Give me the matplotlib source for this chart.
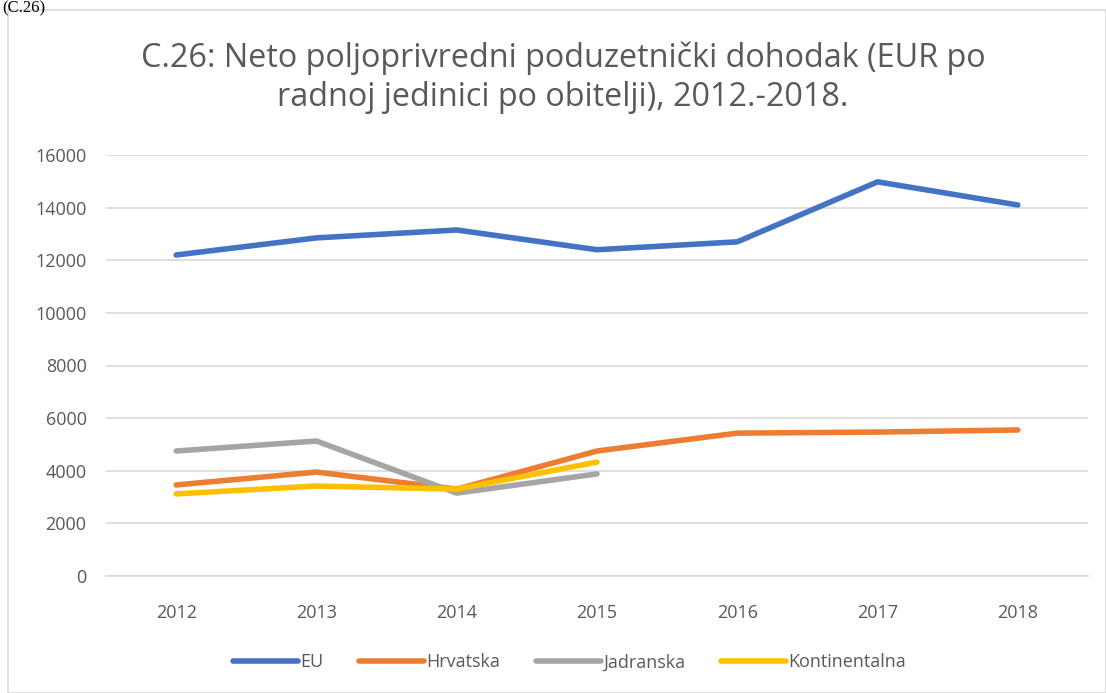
import matplotlib.pyplot as plt
from matplotlib.patches import Rectangle

years = ['2012', '2013', '2014', '2015', '2016', '2017', '2018']
eu = [12200, 12850, 13150, 12400, 12700, 14980, 14100]
hrvatska = [3460, 3950, 3300, 4750, 5430, 5470, 5550]
jadranska = [4750, 5130, 3150, 3880]
kontinentalna = [3120, 3420, 3300, 4330]

plt.rcParams['font.family'] = ['Open Sans', 'DejaVu Sans']

fig = plt.figure(figsize=(11.06, 6.93), dpi=100)

# outer chart frame
fig.patches.append(Rectangle((8 / 1106, 0), 1 - 8 / 1106, 1 - 10 / 693,
                             transform=fig.transFigure, fill=False,
                             edgecolor='#d9d9d9', linewidth=1.2))
fig.text(0.002, 0.999, '(C.26)', family='Liberation Serif', fontsize=12,
         ha='left', va='top', color='black')

ax = fig.add_axes([106 / 1106, 1 - 576 / 693, (1088 - 106) / 1106, (576 - 155) / 693])

x = list(range(len(years)))
ax.plot(x, eu, color='#4472c4', lw=4, label='EU', solid_capstyle='round')
ax.plot(x, hrvatska, color='#ed7d31', lw=4, label='Hrvatska', solid_capstyle='round')
ax.plot(x[:len(jadranska)], jadranska, color='#a5a5a5', lw=4, label='Jadranska', solid_capstyle='round')
ax.plot(x[:len(kontinentalna)], kontinentalna, color='#ffc000', lw=4, label='Kontinentalna', solid_capstyle='round')

ax.set_xlim(-0.5, 6.5)
ax.set_ylim(0, 16000)
ax.set_yticks(range(0, 16001, 2000))
ax.set_xticks(x)
ax.set_xticklabels(years)
ax.grid(axis='y', color='#d9d9d9', lw=1.2)
ax.set_axisbelow(True)
for s in ['top', 'right', 'left']:
    ax.spines[s].set_visible(False)
ax.spines['bottom'].set_color('#d9d9d9')
ax.spines['bottom'].set_linewidth(1.2)
ax.tick_params(length=0, labelsize=13, colors='#595959')
ax.tick_params(axis='x', pad=20)
ax.tick_params(axis='y', pad=14)

fig.text(563 / 1106, 1 - 78 / 693,
         'C.26: Neto poljoprivredni poduzetnički dohodak (EUR po\nradnoj jedinici po obitelji), 2012.-2018.',
         ha='center', va='center', fontsize=23.3, color='#595959', linespacing=1.25)

ax.legend(loc='center', bbox_to_anchor=(0.472, -0.205), ncol=4, frameon=False,
          fontsize=13, labelcolor='#595959', handlelength=3.6, handletextpad=0.1,
          columnspacing=2.0)

fig.savefig('out.png', dpi=100)
